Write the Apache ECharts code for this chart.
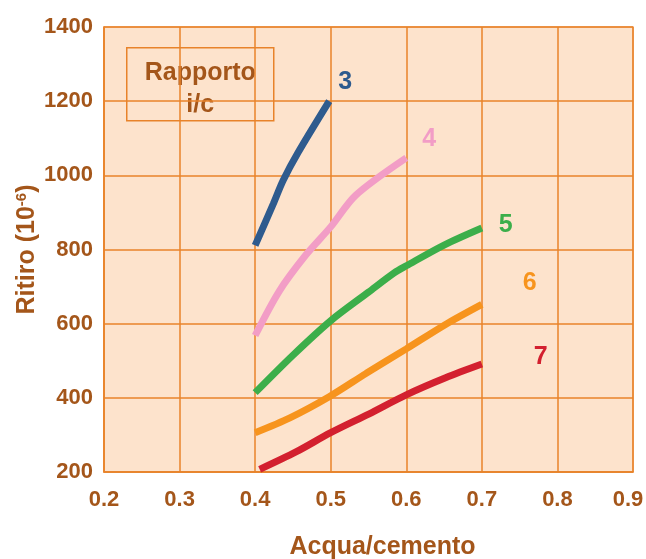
<!DOCTYPE html>
<html>
<head>
<meta charset="utf-8">
<script src="https://cdn.jsdelivr.net/npm/echarts@6/dist/echarts.min.js"></script>
<style>
  html, body { margin: 0; padding: 0; background: #ffffff; }
  #chart { width: 646px; height: 559px; }
</style>
</head>
<body>
<div id="chart"></div>
<script>
// Shrinkage (10^-6) against water/cement ratio, one curve per aggregate/cement ratio
var ratioNames = ['3', '4', '5', '6', '7'];
var ratio3 = [[0.40, 811], [0.424, 923], [0.437, 986], [0.457, 1062], [0.498, 1200]];
var ratio4 = [[0.40, 568], [0.432, 688], [0.467, 785], [0.50, 861], [0.533, 946], [0.60, 1047]];
var ratio5 = [[0.40, 414], [0.45, 515], [0.50, 608], [0.55, 685], [0.584, 737], [0.60, 756], [0.65, 812], [0.70, 858]];
var ratio6 = [[0.40, 306], [0.446, 346], [0.498, 403], [0.547, 466], [0.60, 532], [0.652, 598], [0.70, 652]];
var ratio7 = [[0.406, 207], [0.454, 254], [0.50, 306], [0.551, 357], [0.60, 408], [0.652, 454], [0.70, 491]];
var xTicks = [0.2, 0.3, 0.4, 0.5, 0.6, 0.7, 0.8, 0.9];
var yTicks = [200, 400, 600, 800, 1000, 1200, 1400];

var seriesData = [ratio3, ratio4, ratio5, ratio6, ratio7];
var colors = ['#2e5b8e', '#f29dc6', '#3cae4a', '#f7941d', '#d3202f'];
var labelOffsets = [[1, -19], [8, -19], [9, -3], [33, -21], [44, -7]];

var brown = '#a4561a';
var gridOrange = '#e8832a';
var font = '"Liberation Sans", Arial, sans-serif';

var chart = echarts.init(document.getElementById('chart'), null, { renderer: 'canvas' });

var series = seriesData.map(function (d, i) {
  return {
    type: 'line',
    name: ratioNames[i],
    data: d,
    smooth: 0.3,
    showSymbol: false,
    lineStyle: { color: colors[i], width: 7, cap: 'butt' },
    endLabel: {
      show: true,
      formatter: ratioNames[i],
      color: colors[i],
      fontFamily: font,
      fontWeight: 'bold',
      fontSize: 25,
      offset: labelOffsets[i]
    },
    z: 3
  };
});

var lastX = xTicks[xTicks.length - 1];

chart.setOption({
  animation: false,
  backgroundColor: '#ffffff',
  grid: {
    left: 104, right: 13, top: 27, bottom: 87,
    outerBoundsMode: 'none',
    containLabel: false,
    show: true,
    backgroundColor: '#fde3cc',
    borderColor: '#efa262',
    borderWidth: 1.5
  },
  xAxis: {
    type: 'value',
    min: xTicks[0],
    max: lastX,
    interval: 0.1,
    name: 'Acqua/cemento',
    nameLocation: 'middle',
    nameGap: 63,
    nameMoveOverlap: false,
    nameTextStyle: { color: brown, fontFamily: font, fontWeight: 'bold', fontSize: 25, padding: [0, 0, 0, 28] },
    axisLine: { show: true, lineStyle: { color: gridOrange, width: 1.5 } },
    axisTick: { show: false },
    axisLabel: {
      color: brown, fontFamily: font, fontWeight: 'bold', fontSize: 22, margin: 17,
      formatter: function (v) {
        var s = v.toFixed(1);
        return Math.abs(v - lastX) < 1e-9 ? '{edge|' + s + '}' : s;
      },
      rich: {
        edge: { color: brown, fontFamily: font, fontWeight: 'bold', fontSize: 22, padding: [0, 10, 0, 0] }
      }
    },
    splitLine: { show: true, lineStyle: { color: gridOrange, width: 1.5 } }
  },
  yAxis: {
    type: 'value',
    min: yTicks[0],
    max: yTicks[yTicks.length - 1],
    interval: 200,
    name: 'Ritiro (10{sup|-6})',
    nameLocation: 'middle',
    nameGap: 63,
    nameRotate: 90,
    nameMoveOverlap: false,
    nameTextStyle: {
      color: brown, fontFamily: font, fontWeight: 'bold', fontSize: 25,
      rich: {
        sup: { color: brown, fontFamily: font, fontWeight: 'bold', fontSize: 15, padding: [0, 0, 12, 0] }
      }
    },
    axisLine: { show: true, lineStyle: { color: gridOrange, width: 1.5 } },
    axisTick: { show: false },
    axisLabel: {
      color: brown, fontFamily: font, fontWeight: 'bold', fontSize: 22, margin: 11,
      formatter: function (v) { return String(v); }
    },
    splitLine: { show: true, lineStyle: { color: gridOrange, width: 1.5 } }
  },
  graphic: [{
    type: 'group',
    left: 126,
    top: 47,
    z: 10,
    children: [{
      type: 'rect',
      shape: { x: 0, y: 0, width: 147, height: 73 },
      style: { fill: '#fde3cc', stroke: gridOrange, lineWidth: 1.5 }
    }, {
      type: 'text',
      x: 73.5, y: 25,
      style: {
        text: 'Rapporto', fill: brown, font: 'bold 25px ' + font,
        textAlign: 'center', textVerticalAlign: 'middle'
      }
    }, {
      type: 'text',
      x: 73.5, y: 57,
      style: {
        text: 'i/c', fill: brown, font: 'bold 25px ' + font,
        textAlign: 'center', textVerticalAlign: 'middle'
      }
    }]
  }],
  series: series
});
</script>
</body>
</html>
